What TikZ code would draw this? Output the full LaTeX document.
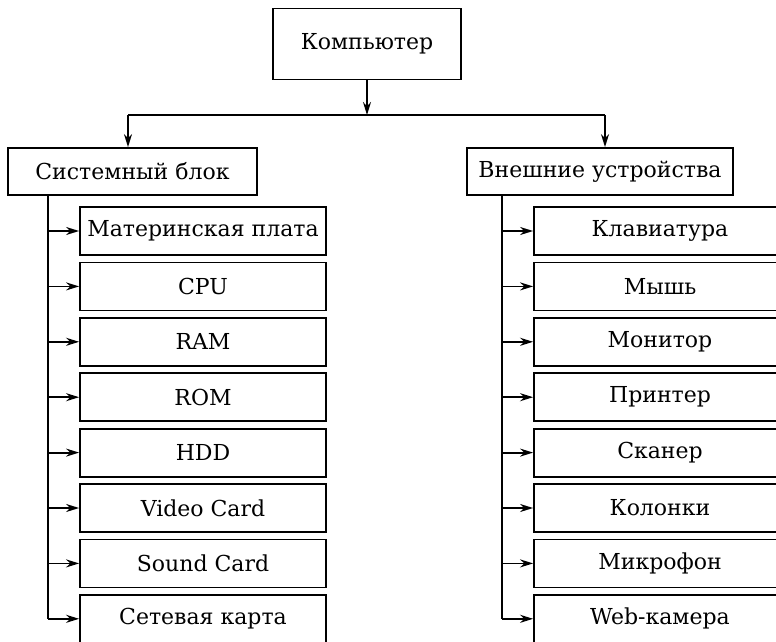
\documentclass[tikz,border=0pt]{standalone}
\usepackage{fontspec}
\setmainfont{DejaVu Serif}
\usetikzlibrary{positioning, arrows.meta}

\begin{document}
\begin{tikzpicture}[x=1pt, y=-1pt, line width=1.8pt,
    box/.style={draw, minimum height=48pt, inner sep=0pt, font=\fontsize{22}{26}\selectfont},
    arr/.style={-{Stealth[length=13pt,width=8pt]}}]
    \useasboundingbox (0,0) rectangle (776,642);

    % top
    \node[box, minimum width=188pt, minimum height=71pt] (comp) at (367,44) {Компьютер};
    \node[box, minimum width=249pt, minimum height=47pt] (sys) at (132.5,171.5) {Системный блок};
    \node[box, minimum width=266pt, minimum height=47pt] (ext) at (600,171.5) {Внешние устройства};

    \coordinate (bl) at (128,115);
    \coordinate (br) at (605,115);
    \draw[arr] (comp.south) -- (comp.south |- bl);
    \draw (bl) -- (br);
    \draw[arr] (bl) -- (bl |- sys.north);
    \draw[arr] (br) -- (br |- ext.north);

    % left column
    \foreach \name [count=\i from 0] in {Материнская плата, CPU, RAM, ROM, HDD, Video Card, Sound Card, Сетевая карта}
        \node[box, minimum width=246pt] (s\i) at (203,{231+55.4*\i}) {\name};
    \coordinate (lt) at (48,195);
    \draw (lt) -- (lt |- s7);
    \foreach \i in {0,...,7}
        \draw[arr] (lt |- s\i) -- (s\i.west);

    % right column
    \foreach \name [count=\i from 0] in {Клавиатура, Мышь, Монитор, Принтер, Сканер, Колонки, Микрофон, Web-камера}
        \node[box, minimum width=252pt] (d\i) at (660,{231+55.4*\i}) {\name};
    \coordinate (rt) at (502,195);
    \draw (rt) -- (rt |- d7);
    \foreach \i in {0,...,7}
        \draw[arr] (rt |- d\i) -- (d\i.west);
\end{tikzpicture}
\end{document}
